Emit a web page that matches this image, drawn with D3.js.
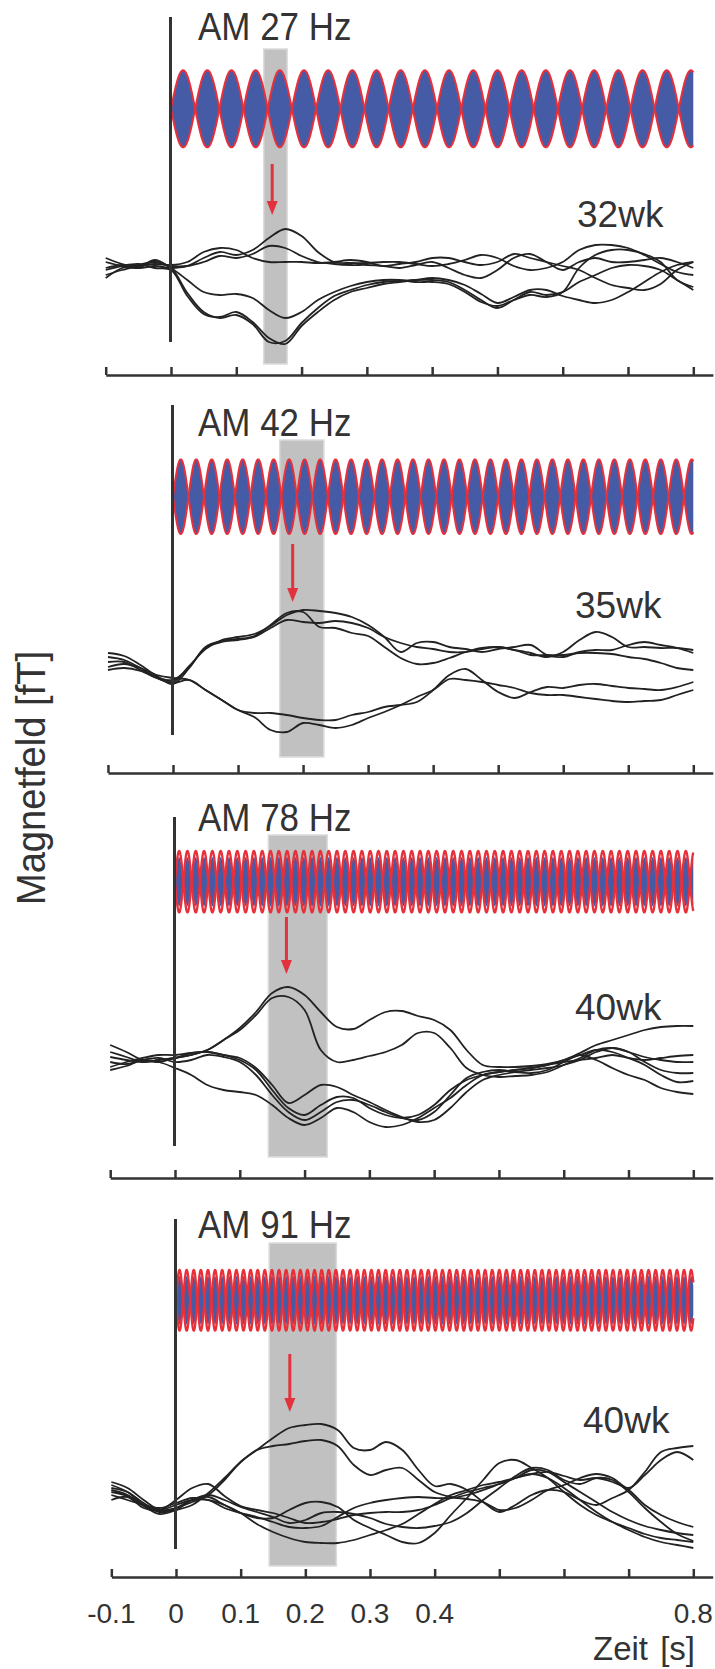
<!DOCTYPE html>
<html><head><meta charset="utf-8">
<script src="https://cdn.jsdelivr.net/npm/d3@7"></script>
<style>
html,body{margin:0;padding:0;background:#fff;}
svg{display:block;}
text{font-family:"Liberation Sans", Arial, Helvetica, sans-serif; fill:#333;}
</style></head><body>
<svg id="chart" width="715" height="1669"></svg>
<script>
// Sampling grid of the averaged field responses (s)
const times = d3.range(37).map(i => +(-0.1 + i * 0.025).toFixed(3));

// Stimulus: amplitude-modulation rate per recording, and gestational age
const amFrequencies = [27, 42, 78, 91];
const ages = ["32wk", "35wk", "40wk", "40wk"];
// Analysis window (s) and latency of the marked response (s)
const analysisWindows = [[0.142, 0.178], [0.164, 0.232], [0.144, 0.235], [0.144, 0.248]];
const responseLatencies = [0.155, 0.184, 0.172, 0.176];

// Time axis
const tickValues = [-0.1, 0, 0.1, 0.2, 0.3, 0.4, 0.5, 0.6, 0.7, 0.8];
const tickLabels = ["-0.1", "0", "0.1", "0.2", "0.3", "0.4", "0.8"];

// Magnetic field responses [fT], one array per channel, sampled on `times`
const responses27 = [
  [7,1,-3,-1,-3,-1,7,13,10,15,27,36,29,13,3,2,2,3,3,1,-1,1,5,10,7,-1,-5,-3,3,15,20,20,17,10,1,-7,-10],
  [-10,-5,-1,3,-1,-1,3,9,7,11,19,17,9,3,1,0,0,-1,-3,0,3,-3,-10,-13,-5,7,11,3,-5,3,7,3,3,5,7,3,-3],
  [-3,0,-1,1,0,3,13,17,15,7,3,3,3,2,3,5,3,-1,1,3,7,7,3,0,3,11,7,3,-1,-5,-13,-20,-23,-25,-19,-5,3],
  [3,-1,-3,5,-3,-15,-27,-30,-29,-33,-45,-53,-47,-35,-27,-21,-17,-15,-15,-17,-17,-19,-27,-37,-41,-35,-30,-32,-27,-3,10,15,15,11,3,-15,-22],
  [-13,-3,0,3,-3,-28,-47,-53,-50,-59,-77,-76,-58,-43,-31,-25,-20,-17,-16,-15,-15,-17,-25,-35,-43,-35,-27,-30,-27,-17,-10,-3,0,-1,-5,-15,-25],
  [-5,-1,1,-3,-5,-31,-49,-52,-47,-57,-73,-79,-61,-47,-35,-27,-23,-19,-17,-15,-13,-15,-20,-29,-38,-32,-25,-25,-31,-35,-38,-35,-27,-17,-7,0,3]
];
const responses42 = [
  [27,24,15,4,-4,12,33,39,41,44,55,67,68,53,52,47,44,33,22,16,17,22,28,32,33,30,27,23,28,40,48,43,33,33,32,32,30],
  [23,20,12,2,-2,14,31,40,43,46,54,65,70,69,67,63,55,43,28,37,38,33,31,28,31,33,35,25,23,28,30,30,35,38,35,32,27],
  [18,18,10,3,0,13,32,38,40,43,52,60,58,57,59,57,52,43,37,33,31,28,28,31,33,30,25,25,25,27,27,26,23,21,17,12,10],
  [13,16,12,5,2,0,-10,-20,-30,-33,-33,-35,-38,-40,-40,-35,-32,-27,-25,-22,-10,5,11,0,-12,-18,-12,-7,-8,-5,-4,-6,-8,-9,-10,-7,-2],
  [10,12,9,2,-3,0,-10,-20,-30,-37,-50,-52,-43,-45,-48,-45,-38,-32,-25,-17,-10,1,0,-2,-5,-8,-13,-15,-15,-17,-19,-21,-22,-21,-20,-15,-10]
];
const responses78 = [
  [15,8,0,-2,2,5,10,20,32,48,67,73,65,48,33,31,40,48,49,44,40,30,10,-5,-7,-7,-6,-4,0,7,15,20,25,30,33,34,34],
  [8,3,-2,0,2,5,10,20,30,45,62,63,50,10,-2,0,4,8,15,27,27,12,-8,-15,-17,-16,-15,-12,-5,2,10,12,8,3,0,-2,-2],
  [-7,-2,2,5,5,7,8,5,2,-8,-25,-43,-35,-25,-27,-35,-42,-50,-57,-62,-60,-48,-32,-20,-15,-12,-10,-8,-5,0,8,12,8,-2,-10,-13,-13],
  [3,0,-2,0,2,7,8,5,0,-10,-30,-48,-55,-45,-37,-38,-48,-55,-58,-55,-45,-30,-20,-15,-12,-10,-8,-5,0,5,10,8,2,-5,-15,-22,-21],
  [-2,-4,0,2,-2,0,5,3,-2,-15,-35,-52,-60,-52,-42,-40,-45,-52,-58,-60,-52,-35,-18,-12,-10,-12,-13,-10,-2,5,0,-8,-15,-20,-28,-32,-34],
  [-10,-6,0,-2,-8,-15,-25,-30,-32,-35,-45,-58,-65,-58,-48,-52,-62,-67,-65,-58,-48,-38,-25,-15,-12,-10,-8,-5,-2,0,2,5,2,0,2,4,5]
];
const responses91 = [
  [23,17,5,-5,-3,3,10,25,43,55,67,77,80,81,75,57,55,63,55,35,19,21,15,3,-7,0,10,15,13,5,0,7,15,33,53,57,59],
  [17,13,2,-7,-5,0,12,27,43,55,59,61,64,65,59,40,30,35,37,25,13,8,6,3,-5,-3,5,15,20,27,31,27,17,30,45,53,45],
  [15,10,0,-5,0,5,5,0,-8,-19,-27,-33,-37,-38,-38,-35,-30,-25,-19,-9,1,10,15,20,23,27,31,27,17,5,-7,-17,-25,-32,-37,-40,-43],
  [20,13,0,-7,-3,5,8,0,-8,-13,-13,-5,2,3,-2,-15,-23,-30,-37,-38,-28,-10,7,25,42,45,37,27,13,0,-10,-17,-23,-29,-33,-35,-37],
  [10,5,0,-3,2,7,5,-3,-8,-12,-17,-22,-23,-21,-12,-3,2,5,7,8,7,7,10,15,21,27,31,33,29,25,27,23,15,0,-10,-17,-22],
  [5,8,-3,-5,5,17,21,9,-1,-5,-8,-13,-18,-17,-14,-10,-8,-7,-7,-5,0,7,13,17,21,27,35,33,23,13,3,-7,-15,-21,-25,-28,-30],
  [13,9,-1,-9,-5,5,10,5,-2,-7,-12,-18,-15,-8,-7,-9,-13,-19,-22,-23,-21,-17,-8,5,17,29,37,35,25,21,27,25,13,-3,-17,-29,-36]
];
const responses = [responses27, responses42, responses78, responses91];

// Panel geometry and stimulus drawing style
const panels = [
  {x0:171, top:17,   bottom:342,  stimY:108.8,  stimH:38.5, fillK:1.0,  redW:2.0, winTop:49,   winBottom:364,  arrowTop:164,  arrowBottom:215,  axisY:375,  baseY:265,  titleY:40,   ageX:577, ageY:227},
  {x0:173, top:405,  bottom:735,  stimY:496.7,  stimH:37.3, fillK:1.0,  redW:2.0, winTop:440,  winBottom:757,  arrowTop:544,  arrowBottom:602,  axisY:773,  baseY:680,  titleY:436,  ageX:575, ageY:618},
  {x0:175, top:817,  bottom:1146, stimY:881.7,  stimH:30.7, fillK:0.8,  redW:2.3, winTop:835,  winBottom:1157, arrowTop:917,  arrowBottom:974,  axisY:1178, baseY:1060, titleY:831,  ageX:575, ageY:1020},
  {x0:176, top:1219, bottom:1549, stimY:1300.3, stimH:30.3, fillK:0.8,  redW:2.3, winTop:1243, winBottom:1566, arrowTop:1354, arrowBottom:1412, axisY:1577, baseY:1505, titleY:1238, ageX:583, ageY:1433}
];
const xRight = 693.3;

const svg = d3.select("#chart");

panels.forEach((P, i) => {
  const g = svg.append("g");
  const x = d3.scaleLinear().domain([0, 0.8]).range([P.x0, xRight]);
  const y = d3.scaleLinear().domain([-100, 100]).range([P.baseY + 100, P.baseY - 100]);
  const ys = d3.scaleLinear().domain([-1, 1]).range([P.stimY + P.stimH, P.stimY - P.stimH]);

  // analysis window
  const w = analysisWindows[i];
  g.append("rect")
    .attr("x", x(w[0])).attr("y", P.winTop)
    .attr("width", x(w[1]) - x(w[0])).attr("height", P.winBottom - P.winTop)
    .attr("fill", "#c1c1c1").attr("stroke", "#dcdcdc").attr("stroke-width", 1.5);

  // AM stimulus: envelope of the modulated tone
  const f = amFrequencies[i];
  const st = d3.range(0, 0.8 + 1e-9, 0.0002);
  const env = t => Math.sin(Math.PI * f * t);
  g.append("path")
    .attr("d", d3.area().x(t => x(t))
      .y0(t => ys(-P.fillK * Math.abs(env(t))))
      .y1(t => ys(P.fillK * Math.abs(env(t))))(st))
    .attr("fill", "#465ba6");
  [1, -1].forEach(s => {
    g.append("path")
      .attr("d", d3.line().x(t => x(t)).y(t => ys(s * env(t)))(st))
      .attr("fill", "none").attr("stroke", "#e8303a").attr("stroke-width", P.redW);
  });

  // field responses
  const line = d3.line().x((d, k) => x(times[k])).y(d => y(d)).curve(d3.curveCatmullRom.alpha(0.5));
  responses[i].forEach(tr => {
    g.append("path").attr("d", line(tr))
      .attr("fill", "none").attr("stroke", "#222").attr("stroke-width", 1.8)
      .attr("stroke-linejoin", "round");
  });

  // stimulus onset
  g.append("line")
    .attr("x1", x(0) - 0.5).attr("x2", x(0) - 0.5)
    .attr("y1", P.top).attr("y2", P.bottom)
    .attr("stroke", "#333").attr("stroke-width", 3);

  // response marker
  const ax = x(responseLatencies[i]);
  g.append("line")
    .attr("x1", ax).attr("x2", ax).attr("y1", P.arrowTop).attr("y2", P.arrowBottom - 12)
    .attr("stroke", "#e2323c").attr("stroke-width", 3);
  g.append("path")
    .attr("d", `M${ax - 5.5},${P.arrowBottom - 14}L${ax + 5.5},${P.arrowBottom - 14}L${ax},${P.arrowBottom}Z`)
    .attr("fill", "#e2323c");

  // time axis
  const axScale = d3.scaleLinear().domain([-0.1, 0.83]).range([x(-0.1), x(0.83)]);
  const axis = g.append("g").attr("transform", `translate(0,${P.axisY})`)
    .call(d3.axisTop(axScale).tickValues(tickValues).tickSize(8).tickSizeOuter(0).tickFormat(""));
  axis.select(".domain").attr("stroke", "#333").attr("stroke-width", 2.5);
  axis.selectAll(".tick line").attr("stroke", "#333").attr("stroke-width", 2.5);

  if (i === panels.length - 1) {
    g.selectAll("text.tl").data(tickLabels).join("text")
      .attr("class", "tl")
      .attr("x", d => x(+d)).attr("y", P.axisY + 46)
      .attr("text-anchor", "middle").attr("font-size", 28)
      .text(d => d);
  }

  // labels
  g.append("text")
    .attr("transform", `translate(198,${P.titleY}) scale(0.92,1)`)
    .attr("font-size", 38)
    .text(`AM ${f} Hz`);
  g.append("text")
    .attr("x", P.ageX).attr("y", P.ageY)
    .attr("font-size", 37)
    .text(ages[i]);
});

svg.append("text")
  .attr("transform", "translate(45,778) rotate(-90) scale(0.93,1)")
  .attr("text-anchor", "middle").attr("font-size", 41)
  .text("Magnetfeld [fT]");

svg.append("text")
  .attr("x", 695).attr("y", 1660)
  .attr("text-anchor", "end").attr("font-size", 33).attr("word-spacing", 3)
  .text("Zeit [s]");
</script>
</body></html>
